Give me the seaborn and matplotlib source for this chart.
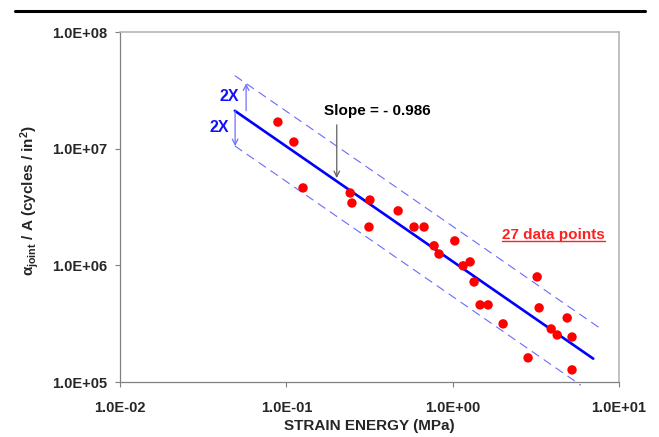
import numpy as np
import pandas as pd
import matplotlib
matplotlib.use("Agg")
import matplotlib.pyplot as plt
import seaborn as sns
from matplotlib.lines import Line2D
from matplotlib.ticker import FixedLocator, FuncFormatter, NullLocator

# ---- data ----
strain_energy = [0.089, 0.111, 0.126, 0.242, 0.248, 0.318, 0.314, 0.470, 0.586,
                 0.673, 0.773, 0.828, 1.03, 1.155, 1.273, 1.345, 1.462, 1.633,
                 2.01, 2.84, 3.22, 3.31, 3.91, 4.25, 4.88, 5.22, 5.22]
cycles_per_area = [1.69e7, 1.14e7, 4.61e6, 4.17e6, 3.42e6, 3.63e6, 2.13e6, 2.93e6,
                   2.13e6, 2.13e6, 1.47e6, 1.25e6, 1.62e6, 9.9e5, 1.07e6, 7.2e5,
                   4.58e5, 4.58e5, 3.15e5, 1.61e5, 7.96e5, 4.32e5, 2.85e5, 2.53e5,
                   3.54e5, 2.43e5, 1.27e5]
fit_slope = -0.986
fit_coef = 1.08e6
fit_x_range = [0.049, 7.0]
band_factor = 2.0
upper_x_range = [0.049, 7.9]
lower_x_range = [0.049, 5.9]
x_ticks = [1e-2, 1e-1, 1e0, 1e1]
y_ticks = [1e5, 1e6, 1e7, 1e8]

def fit(x, factor=1.0):
    return fit_coef * np.asarray(x) ** fit_slope * factor

sns.set_style("ticks")
plt.rcParams['font.family'] = ['Liberation Sans', 'DejaVu Sans']
plt.rcParams['font.weight'] = 'bold'
plt.rcParams['mathtext.fontset'] = 'custom'
plt.rcParams['mathtext.rm'] = 'Liberation Sans:bold'
plt.rcParams['mathtext.it'] = 'Liberation Sans:bold'
plt.rcParams['mathtext.bf'] = 'Liberation Sans:bold'

fig = plt.figure(figsize=(6.59, 4.37), dpi=100)
ax = fig.add_axes([120/659, 1-382/437, 499/659, 350/437])

df = pd.DataFrame({"x": strain_energy, "y": cycles_per_area})
sns.scatterplot(data=df, x="x", y="y", ax=ax, color="#ff0000", s=46,
                edgecolor="none", zorder=5)

xf = np.array(fit_x_range)
sns.lineplot(x=xf, y=fit(xf), ax=ax, color="#0000ff", lw=1.9, estimator=None, sort=False)
xu = np.array(upper_x_range)
sns.lineplot(x=xu, y=fit(xu, band_factor), ax=ax, color="#6a6aff", lw=0.8,
             estimator=None, sort=False)
ax.lines[-1].set_dashes((8, 5))
xl = np.array(lower_x_range)
sns.lineplot(x=xl, y=fit(xl, 1/band_factor), ax=ax, color="#6a6aff", lw=0.8,
             estimator=None, sort=False)
ax.lines[-1].set_dashes((8, 5))
ax.lines[-1].set_clip_on(False)

ax.set_xscale("log")
ax.set_yscale("log")
ax.set_xlim(1e-2, 1e1)
ax.set_ylim(1e5, 1e8)
ax.xaxis.set_major_locator(FixedLocator(x_ticks))
ax.yaxis.set_major_locator(FixedLocator(y_ticks))
ax.xaxis.set_minor_locator(NullLocator())
ax.yaxis.set_minor_locator(NullLocator())
fmt = FuncFormatter(lambda v, p: f"{v:.1E}")
ax.xaxis.set_major_formatter(fmt)
ax.yaxis.set_major_formatter(fmt)
ax.tick_params(axis="x", length=3.5, width=0.8, color="#808080", pad=10, labelsize=10.5)
ax.tick_params(axis="y", length=3.5, width=0.8, color="#808080", pad=6, labelsize=10.5)
for lab in ax.get_xticklabels() + ax.get_yticklabels():
    lab.set_fontweight("bold")

for side in ["left", "bottom"]:
    ax.spines[side].set_color("#808080")
    ax.spines[side].set_linewidth(0.9)
for side in ["top", "right"]:
    ax.spines[side].set_color("#b0b0b0")
    ax.spines[side].set_linewidth(1.1)

ax.set_xlabel("STRAIN ENERGY (MPa)", fontsize=11, fontweight="bold")
ax.xaxis.set_label_coords(0.5, -0.105)
ax.set_ylabel(r"$\alpha_{\rm joint}$ / A (cycles / in$^{2}$)", fontsize=11, fontweight="bold")
ax.yaxis.set_label_coords(-0.158, 0.52)

# 2X arrows
y0 = fit(fit_x_range[0])
ax.annotate("", xy=(0.0573, fit(0.0573, band_factor)), xytext=(0.0573, y0),
            arrowprops=dict(arrowstyle="->", color="#7070ff", lw=0.9,
                            shrinkA=0, shrinkB=0, mutation_scale=10))
ax.annotate("", xy=(0.0492, fit(0.0492, 1/band_factor)), xytext=(0.0492, y0),
            arrowprops=dict(arrowstyle="->", color="#7070ff", lw=0.9,
                            shrinkA=0, shrinkB=0, mutation_scale=10))
ax.text(0.0452, 2.58e7, "2X", color="#1010ff", fontsize=11.5, fontweight="bold",
        ha="center", va="baseline")
ax.text(0.0394, 1.38e7, "2X", color="#1010ff", fontsize=11.5, fontweight="bold",
        ha="center", va="baseline")

# slope annotation
ax.annotate("", xy=(0.201, 5.6e6), xytext=(0.201, 1.6e7),
            arrowprops=dict(arrowstyle="->", color="#606060", lw=0.9,
                            shrinkA=0, shrinkB=0, mutation_scale=10))
ax.text(0.351, 1.95e7, "Slope = - 0.986", color="black", fontsize=11,
        fontweight="bold", ha="center", va="baseline")

t = ax.text(4.02, 1.68e6, "27 data points", color="#ff2020", fontsize=11,
            fontweight="bold", ha="center", va="baseline")

# top rule
fig.add_artist(Line2D([15/659, 645/659], [1-11/437, 1-11/437], color="black",
                      lw=2.2, transform=fig.transFigure))

# underline for the red label
fig.canvas.draw()
bb = t.get_window_extent()
inv = fig.transFigure.inverted()
(x0, _), (x1, _) = inv.transform([(bb.x0, bb.y0), (bb.x1, bb.y0)])
base_disp = ax.transData.transform((4.02, 1.68e6))[1]
ul_y = inv.transform((0, base_disp - 2.0))[1]
fig.add_artist(Line2D([x0, x1], [ul_y, ul_y], color="#ff2020", lw=1.0,
                      transform=fig.transFigure))

fig.savefig("out.png", dpi=100)
